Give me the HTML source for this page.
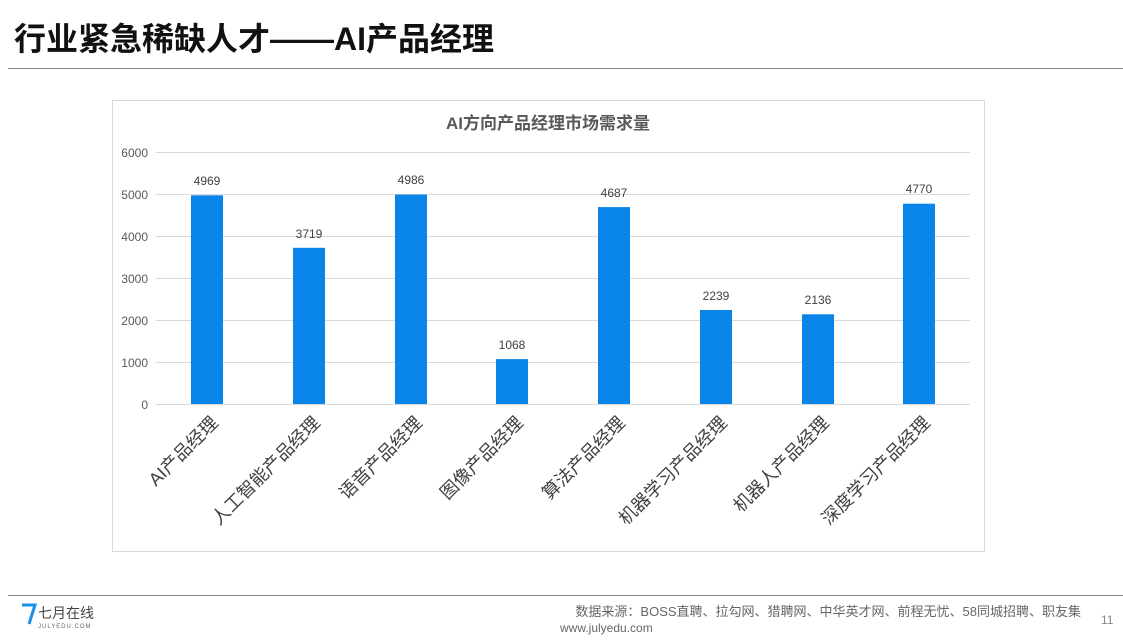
<!DOCTYPE html>
<html><head><meta charset="utf-8"><style>
body{margin:0;width:1123px;height:637px;background:#fff;overflow:hidden;font-family:"Liberation Sans","Noto Sans CJK SC",sans-serif;}
</style></head><body>
<svg width="1123" height="637" xmlns="http://www.w3.org/2000/svg" font-family="Liberation Sans, Noto Sans CJK SC, sans-serif">
<text x="14" y="50" font-size="32" font-weight="bold" fill="#111">行业紧急稀缺人才——AI产品经理</text>
<line x1="8" y1="68.5" x2="1123" y2="68.5" stroke="#888" stroke-width="1"/>
<rect x="112.5" y="100.5" width="872" height="451" fill="#fff" stroke="#d9d9d9"/>
<text x="548" y="129" font-size="17" font-weight="bold" fill="#595959" text-anchor="middle">AI方向产品经理市场需求量</text>
<g stroke="#d9d9d9" stroke-width="1">
<line x1="156" y1="152.5" x2="970" y2="152.5"/><line x1="156" y1="194.5" x2="970" y2="194.5"/>
<line x1="156" y1="236.5" x2="970" y2="236.5"/><line x1="156" y1="278.5" x2="970" y2="278.5"/>
<line x1="156" y1="320.5" x2="970" y2="320.5"/><line x1="156" y1="362.5" x2="970" y2="362.5"/>
<line x1="156" y1="404.5" x2="970" y2="404.5"/>
</g>
<g font-size="12" fill="#595959" text-anchor="end">
<text x="148" y="157">6000</text><text x="148" y="199">5000</text><text x="148" y="241">4000</text>
<text x="148" y="283">3000</text><text x="148" y="325">2000</text><text x="148" y="367">1000</text><text x="148" y="409">0</text>
</g>
<g fill="#0984e8">
<rect x="191" y="195.3" width="32" height="208.7"/>
<rect x="293" y="247.8" width="32" height="156.2"/>
<rect x="395" y="194.6" width="32" height="209.4"/>
<rect x="496" y="359.1" width="32" height="44.9"/>
<rect x="598" y="207.1" width="32" height="196.9"/>
<rect x="700" y="310" width="32" height="94"/>
<rect x="802" y="314.3" width="32" height="89.7"/>
<rect x="903" y="203.7" width="32" height="200.3"/>
</g>
<g font-size="12" fill="#404040" text-anchor="middle">
<text x="207" y="185">4969</text><text x="309" y="238">3719</text><text x="411" y="184">4986</text>
<text x="512" y="349">1068</text><text x="614" y="197">4687</text><text x="716" y="300">2239</text>
<text x="818" y="304">2136</text><text x="919" y="193">4770</text>
</g>
<g font-size="18" fill="#404040" text-anchor="end">
<text transform="translate(219,424) rotate(-45)">AI产品经理</text>
<text transform="translate(321,424) rotate(-45)">人工智能产品经理</text>
<text transform="translate(423,424) rotate(-45)">语音产品经理</text>
<text transform="translate(524,424) rotate(-45)">图像产品经理</text>
<text transform="translate(626,424) rotate(-45)">算法产品经理</text>
<text transform="translate(728,424) rotate(-45)">机器学习产品经理</text>
<text transform="translate(830,424) rotate(-45)">机器人产品经理</text>
<text transform="translate(931,424) rotate(-45)">深度学习产品经理</text>
</g>
<line x1="8" y1="595.5" x2="1123" y2="595.5" stroke="#888" stroke-width="1"/>
<path d="M22 605 L35 605 L29 624" stroke="#1a8fe8" stroke-width="3" fill="none"/>
<text x="38" y="618" font-size="14" fill="#444">七月在线</text>
<text x="38" y="628" font-size="6" fill="#666" letter-spacing="1">JULYEDU.COM</text>
<text x="1081" y="616" font-size="13" fill="#666" text-anchor="end">数据来源：BOSS直聘、拉勾网、猎聘网、中华英才网、前程无忧、58同城招聘、职友集</text>
<text x="560" y="632" font-size="12" fill="#666">www.julyedu.com</text>
<text x="1101" y="624" font-size="12" fill="#888">11</text>
</svg>
</body></html>
